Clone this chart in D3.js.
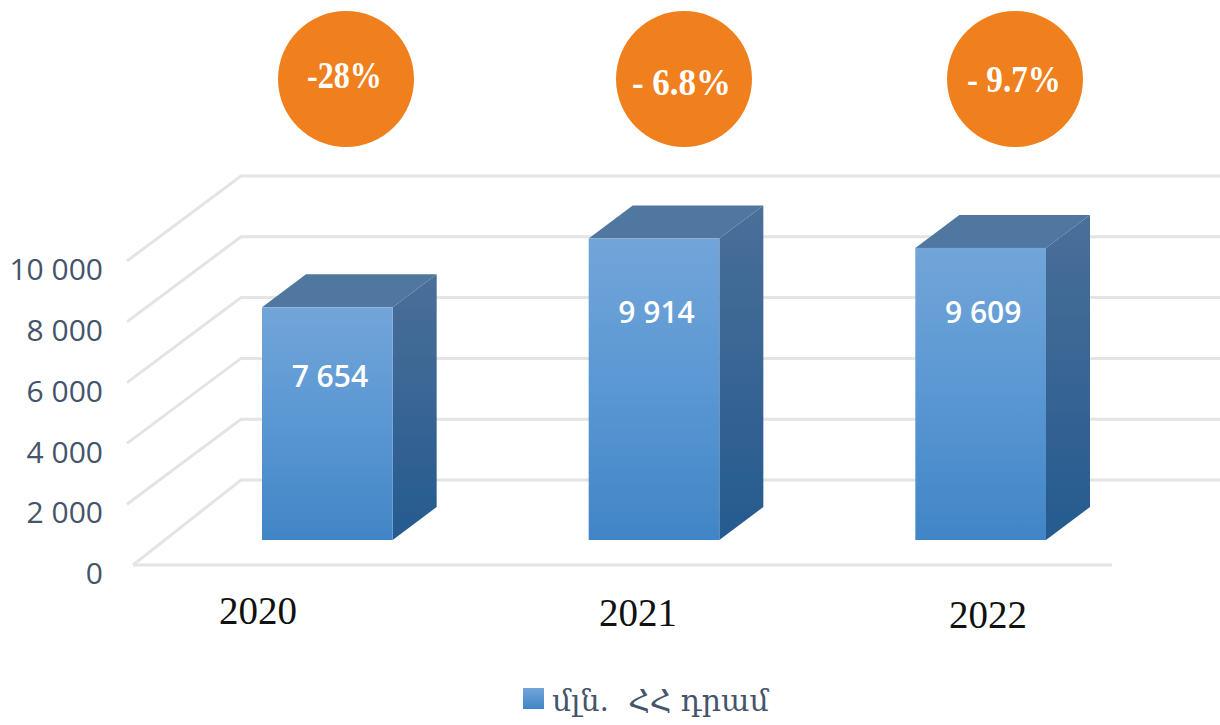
<!DOCTYPE html>
<html>
<head>
<meta charset="utf-8">
<script src="https://cdn.jsdelivr.net/npm/d3@7"></script>
<style>
  html, body { margin: 0; padding: 0; background: #fff; }
</style>
</head>
<body>
<svg id="plot" width="1220" height="725"></svg>
<script>
const categories = ["2020", "2021", "2022"];
const values = [7654, 9914, 9609];
const valueLabels = ["7 654", "9 914", "9 609"];
const changes = ["-28%", "- 6.8%", "- 9.7%"];
const tickValues = [0, 2000, 4000, 6000, 8000, 10000];
const tickLabels = ["0", "2 000", "4 000", "6 000", "8 000", "10 000"];
const legendLabel = "մլն.  ՀՀ դրամ";

const svg = d3.select("#plot");

// front plane of the fake 3d box
const yScale = d3.scaleLinear().domain([0, 10000]).range([565, 261]);
const xScale = d3.scaleBand().domain(categories).range([262, 1046]).paddingInner(0.6);

// how far things are pushed back in the box
const wallX = 241, wallDy = -85;
const barBaseY = 540, barDx = 44, barDy = -33;
const barHeight = v => yScale(0) - yScale(v);

// gradients
const defs = svg.append("defs");
function gradient(id, stops) {
  const g = defs.append("linearGradient").attr("id", id)
    .attr("x1", 0).attr("y1", 0)
    .attr("x2", 0).attr("y2", 1);
  stops.forEach(s => g.append("stop").attr("offset", s[0]).attr("stop-color", s[1]));
}
gradient("front", [[0, "#72a5d9"], [0.5, "#5a97d3"], [1, "#4185c6"]]);
gradient("side", [[0, "#4a6f99"], [1, "#255a8f"]]);
gradient("legendSwatch", [[0, "#72a5d9"], [1, "#4185c6"]]);
const soft = defs.append("filter").attr("id", "soft");
soft.append("feGaussianBlur").attr("stdDeviation", 0.7);
const softBar = defs.append("filter").attr("id", "softBar");
softBar.append("feGaussianBlur").attr("stdDeviation", 0.5);

// grid: back wall lines plus the diagonals on the left wall
const grid = svg.append("g")
  .attr("fill", "none")
  .attr("stroke", "#e4e4e4")
  .attr("stroke-width", 3)
  .attr("filter", "url(#soft)");

grid.selectAll("path.wall")
  .data(tickValues)
  .enter().append("path")
  .attr("class", "wall")
  .attr("d", d => {
    const y = yScale(d);
    return d3.line()([[d === 0 ? 133 : 127, y], [wallX, y + wallDy], [1220, y + wallDy]]);
  });

grid.append("line")
  .attr("x1", 133).attr("x2", 1112)
  .attr("y1", yScale(0)).attr("y2", yScale(0));

// bars
const bars = svg.append("g").selectAll("g")
  .data(categories)
  .enter().append("g");

bars.append("path")
  .attr("fill", "#50779f")
  .attr("filter", "url(#softBar)")
  .attr("d", (d, i) => {
    const x = xScale(d), w = xScale.bandwidth(), y = barBaseY - barHeight(values[i]);
    return d3.line()([[x, y], [x + barDx, y + barDy], [x + w + barDx, y + barDy], [x + w, y]]) + "Z";
  });

bars.append("path")
  .attr("fill", "url(#side)")
  .attr("filter", "url(#softBar)")
  .attr("d", (d, i) => {
    const x = xScale(d) + xScale.bandwidth(), y = barBaseY - barHeight(values[i]);
    return d3.line()([[x, y], [x + barDx, y + barDy], [x + barDx, barBaseY + barDy], [x, barBaseY]]) + "Z";
  });

bars.append("rect")
  .attr("fill", "url(#front)")
  .attr("filter", "url(#softBar)")
  .attr("x", d => xScale(d))
  .attr("y", (d, i) => barBaseY - barHeight(values[i]))
  .attr("width", xScale.bandwidth())
  .attr("height", (d, i) => barHeight(values[i]));

// value labels sit at a fixed drop under the bar top, except the first
const labelDrop = [80, 84, 75];
bars.append("text")
  .attr("x", d => xScale(d) + xScale.bandwidth() / 2 + 2.5)
  .attr("y", (d, i) => barBaseY - barHeight(values[i]) + labelDrop[i])
  .attr("text-anchor", "middle")
  .attr("font-family", "'Open Sans'")
  .attr("font-weight", 600)
  .attr("font-size", 30)
  .attr("fill", "#fff")
  .text((d, i) => valueLabels[i]);

// y axis labels
const yAxis = d3.axisLeft(yScale)
  .tickValues(tickValues)
  .tickFormat((d, i) => tickLabels[i])
  .tickSize(0)
  .tickPadding(0);

const yAxisG = svg.append("g")
  .attr("transform", "translate(103, 9)")
  .call(yAxis);
yAxisG.select(".domain").remove();
yAxisG.selectAll("text")
  .attr("font-family", "'Open Sans'")
  .attr("font-size", 30)
  .attr("fill", "#44546a");

// category labels, these are not centred on the bars in the original
const catX = [258, 638, 988];
const catY = [624, 626, 628];
svg.append("g").selectAll("text")
  .data(categories)
  .enter().append("text")
  .attr("x", (d, i) => catX[i])
  .attr("y", (d, i) => catY[i])
  .attr("text-anchor", "middle")
  .attr("font-family", "'Liberation Serif'")
  .attr("font-size", 39)
  .attr("fill", "#111")
  .text(d => d);

// orange circles on top
const circleX = [346, 684, 1015];
const circleY = 79;
const changeX = [-1.5, -2.5, -1];
const changeY = [9, 16, 13];
const changeWidth = [75, 99, 94];
const circles = svg.append("g").selectAll("g")
  .data(changes)
  .enter().append("g")
  .attr("transform", (d, i) => `translate(${circleX[i]}, ${circleY})`);

circles.append("circle")
  .attr("r", 68)
  .attr("fill", "#f0801e");

circles.append("text")
  .attr("x", (d, i) => changeX[i])
  .attr("y", (d, i) => changeY[i])
  .attr("text-anchor", "middle")
  .attr("font-family", "'Liberation Serif'")
  .attr("font-weight", 700)
  .attr("font-size", 38)
  .attr("textLength", (d, i) => changeWidth[i])
  .attr("lengthAdjust", "spacingAndGlyphs")
  .attr("fill", "#fff")
  .text(d => d);

// legend
svg.append("rect")
  .attr("x", 523).attr("y", 688)
  .attr("width", 21).attr("height", 21)
  .attr("fill", "url(#legendSwatch)");

svg.append("text")
  .attr("x", 552).attr("y", 711)
  .attr("font-family", "'DejaVu Serif'")
  .attr("font-size", 30)
  .attr("fill", "#44546a")
  .style("white-space", "pre")
  .text(legendLabel);
</script>
</body>
</html>
